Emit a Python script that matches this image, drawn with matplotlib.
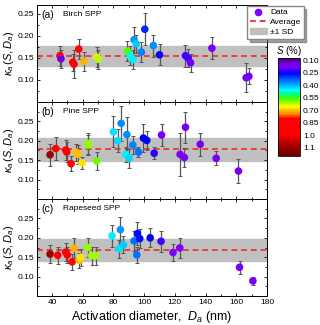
import numpy as np
import matplotlib.pyplot as plt
from matplotlib.colors import LinearSegmentedColormap, Normalize
from matplotlib.lines import Line2D
from matplotlib.patches import Patch
from matplotlib.ticker import MultipleLocator

plt.rcParams['font.family'] = ['Liberation Sans', 'DejaVu Sans']
plt.rcParams['mathtext.fontset'] = 'custom'
plt.rcParams['mathtext.rm'] = 'Liberation Sans'
plt.rcParams['mathtext.it'] = 'Liberation Sans:italic'

# (a) Birch SPP
birch_d = [45.2, 45.8, 53.5, 54.3, 57.4, 60.8, 69.1, 70.2, 89.1, 90.8, 92.8, 93.4, 94.9,
           98.2, 100.4, 106.0, 110.0, 126.9, 128.5, 130.2, 144.1, 166.4, 168.2]
birch_k = [0.155, 0.148, 0.140, 0.136, 0.170, 0.142, 0.152, 0.147, 0.165, 0.155, 0.146, 0.191,
           0.182, 0.163, 0.215, 0.178, 0.157, 0.155, 0.150, 0.139, 0.172, 0.105, 0.108]
birch_err = [0.023, 0.021, 0.019, 0.032, 0.023, 0.021, 0.022, 0.022, 0.023, 0.022, 0.021, 0.030,
             0.020, 0.023, 0.036, 0.025, 0.024, 0.025, 0.021, 0.020, 0.025, 0.033, 0.018]
birch_s = [0.92, 0.15, 0.92, 0.92, 0.92, 0.71, 0.68, 0.62, 0.57, 0.47, 0.45, 0.38, 0.42,
           0.36, 0.29, 0.37, 0.26, 0.22, 0.22, 0.19, 0.17, 0.17, 0.17]
birch_avg, birch_sd = 0.155, 0.023

# (b) Pine SPP
pine_d = [38.7, 42.4, 48.9, 49.6, 52.4, 55.6, 56.9, 59.5, 63.2, 63.6, 69.1, 80.0, 82.8, 85.0,
          88.0, 88.7, 90.2, 92.6, 96.3, 99.5, 101.7, 106.5, 111.3, 123.4, 126.2, 126.9,
          136.5, 146.9, 161.4]
pine_k = [0.164, 0.180, 0.176, 0.171, 0.141, 0.171, 0.165, 0.143, 0.193, 0.189, 0.148, 0.223,
          0.200, 0.245, 0.165, 0.216, 0.155, 0.189, 0.171, 0.207, 0.201, 0.168, 0.215, 0.165,
          0.157, 0.235, 0.191, 0.155, 0.122]
pine_err = [0.028, 0.030, 0.025, 0.025, 0.020, 0.022, 0.025, 0.016, 0.028, 0.025, 0.022, 0.040,
            0.030, 0.045, 0.020, 0.045, 0.025, 0.023, 0.014, 0.035, 0.025, 0.016, 0.028, 0.055,
            0.025, 0.040, 0.030, 0.018, 0.032]
pine_s = [1.15, 0.92, 0.92, 0.92, 0.92, 0.70, 0.70, 0.68, 0.60, 0.60, 0.58, 0.44, 0.43, 0.37,
          0.45, 0.37, 0.43, 0.36, 0.35, 0.26, 0.26, 0.24, 0.17, 0.17, 0.17, 0.17, 0.17, 0.17, 0.17]
pine_avg, pine_sd = 0.178, 0.029

# (c) Rapeseed SPP
rape_d = [38.7, 43.7, 48.9, 49.9, 53.0, 54.3, 57.8, 58.7, 63.2, 65.8, 68.4, 79.1, 83.5, 84.5,
          86.5, 93.4, 95.2, 95.6, 97.1, 103.9, 111.0, 118.8, 123.2, 162.1, 170.8]
rape_k = [0.158, 0.155, 0.163, 0.156, 0.138, 0.173, 0.142, 0.150, 0.175, 0.154, 0.154, 0.205,
          0.172, 0.221, 0.182, 0.192, 0.156, 0.211, 0.198, 0.200, 0.191, 0.162, 0.174, 0.124, 0.089]
rape_err = [0.024, 0.022, 0.023, 0.020, 0.020, 0.026, 0.020, 0.022, 0.025, 0.023, 0.023, 0.028,
            0.023, 0.032, 0.022, 0.025, 0.020, 0.029, 0.025, 0.024, 0.027, 0.023, 0.025, 0.017, 0.011]
rape_s = [1.15, 0.92, 0.92, 0.92, 0.92, 0.71, 0.70, 0.68, 0.60, 0.61, 0.61, 0.45, 0.44, 0.38,
          0.42, 0.35, 0.35, 0.27, 0.27, 0.26, 0.22, 0.18, 0.18, 0.17, 0.17]
rape_avg, rape_sd = 0.168, 0.029

cb_ticks = [0.10, 0.25, 0.40, 0.55, 0.70, 0.85, 1.00, 1.15]
cb_labels = ['0.10', '0.25', '0.40', '0.55', '0.70', '0.85', '1.0', '1.1']

vmin, vmax = 0.075, 1.25
stops = [(0.075, '#4a0070'), (0.12, '#6a00c0'), (0.18, '#7f00ff'), (0.26, '#0000ff'),
         (0.33, '#0060ff'), (0.40, '#00b0ff'), (0.46, '#00ffff'), (0.50, '#00ff90'),
         (0.56, '#40ff00'), (0.61, '#a0ff00'), (0.66, '#ffff00'), (0.70, '#ffc000'),
         (0.75, '#ff8000'), (0.80, '#ff0000'), (1.00, '#ff0000'), (1.08, '#c00000'),
         (1.25, '#6a0000')]
cmap = LinearSegmentedColormap.from_list(
    'rb', [((v - vmin) / (vmax - vmin), c) for v, c in stops])
norm = Normalize(vmin, vmax)

fig = plt.figure(figsize=(3.2, 3.25), dpi=100)
panels = [
    ('(a)', 'Birch SPP', birch_d, birch_k, birch_err, birch_s, birch_avg, birch_sd, 0.27, 0.6862),
    ('(b)', 'Pine SPP', pine_d, pine_k, pine_err, pine_s, pine_avg, pine_sd, 0.30, 0.3877),
    ('(c)', 'Rapeseed SPP', rape_d, rape_k, rape_err, rape_s, rape_avg, rape_sd, 0.30, 0.0892),
]
axes = []
for tag, name, d, k, err, s, avg, sd, ytop, bottom in panels:
    ax = fig.add_axes([0.1147, bottom, 0.7197, 0.2985])
    ax.axhspan(avg - sd, avg + sd, color='#c0c0c0', zorder=0)
    ax.axhline(avg, color='#e8413a', ls=(0, (3, 2)), lw=1.4, zorder=1)
    ax.errorbar(d, k, yerr=err, fmt='none', ecolor='#555555', elinewidth=0.9,
                capsize=1.5, capthick=0.7, zorder=2)
    ax.scatter(d, k, c=s, cmap=cmap, norm=norm, s=30, edgecolors='none', zorder=3)
    ax.set_xlim(30, 180)
    ax.set_ylim(0.05, ytop)
    ax.set_yticks([0.10, 0.15, 0.20, 0.25])
    ax.xaxis.set_major_locator(MultipleLocator(20))
    ax.xaxis.set_minor_locator(MultipleLocator(10))
    ax.yaxis.set_minor_locator(MultipleLocator(0.025))
    ax.tick_params(which='both', direction='in', top=True, right=True, labelsize=6,
                   width=0.6, pad=2)
    ax.tick_params(which='major', length=2.5)
    ax.tick_params(which='minor', length=1.5)
    for sp in ax.spines.values():
        sp.set_linewidth(0.7)
    ax.set_ylabel(r'$\kappa_a\,(S,D_a)$', fontsize=8, labelpad=1)
    ax.text(0.02, 0.9, tag, transform=ax.transAxes, fontsize=7.5, va='center')
    ax.text(0.115, 0.9, name, transform=ax.transAxes, fontsize=6, va='center')
    if tag != '(c)':
        ax.tick_params(labelbottom=False)
    axes.append(ax)

axes[-1].set_xlabel(r'Activation diameter,  $D_a$ (nm)', fontsize=9, labelpad=2)

handles = [Line2D([], [], marker='o', ls='none', color='#7f00ff', markersize=4.5),
           Line2D([], [], color='#e8413a', ls=(0, (3, 2)), lw=1.4),
           Patch(facecolor='#c0c0c0', edgecolor='#c0c0c0')]
fig.legend(handles, ['Data', 'Average', '\u00b11 SD'], loc='upper right',
           bbox_to_anchor=(0.962, 0.994), fontsize=6, frameon=True, shadow=True,
           fancybox=False, edgecolor='#888888', borderpad=0.3, labelspacing=0.25,
           handlelength=2.0, handletextpad=0.4)

cax = fig.add_axes([0.869, 0.52, 0.069, 0.3015])
sm = plt.cm.ScalarMappable(cmap=cmap, norm=norm)
cb = fig.colorbar(sm, cax=cax)
cb.ax.invert_yaxis()
cb.set_ticks(cb_ticks)
cb.set_ticklabels(cb_labels)
cb.ax.tick_params(length=0, labelsize=6, pad=2)
cb.outline.set_linewidth(0.6)
cax.set_title(r'$S$ (%)', fontsize=7, pad=2)

fig.savefig('out.png', dpi=100)
